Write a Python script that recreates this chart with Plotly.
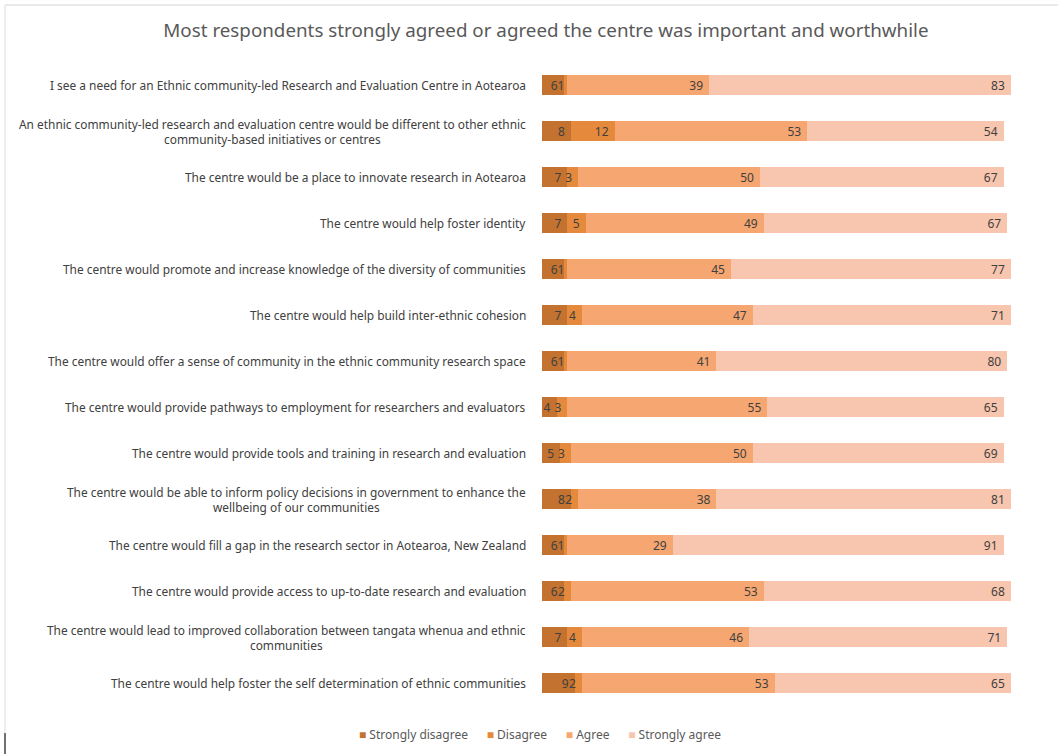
import plotly.graph_objects as go

statements = [
    "I see a need for an Ethnic community-led Research and Evaluation Centre in Aotearoa",
    "An ethnic community-led research and evaluation centre would be different to other ethnic<br>community-based initiatives or centres",
    "The centre would be a place to innovate research in Aotearoa",
    "The centre would help foster identity",
    "The centre would promote and increase knowledge of the diversity of communities",
    "The centre would help build inter-ethnic cohesion",
    "The centre would offer a sense of community in the ethnic community research space",
    "The centre would provide pathways to employment for researchers and evaluators",
    "The centre would provide tools and training in research and evaluation",
    "The centre would be able to inform policy decisions in government to enhance the<br>wellbeing of our communities",
    "The centre would fill a gap in the research sector in Aotearoa, New Zealand",
    "The centre would provide access to up-to-date research and evaluation",
    "The centre would lead to improved collaboration between tangata whenua and ethnic<br>communities",
    "The centre would help foster the self determination of ethnic communities",
]

strongly_disagree = [6, 8, 7, 7, 6, 7, 6, 4, 5, 8, 6, 6, 7, 9]
disagree = [1, 12, 3, 5, 1, 4, 1, 3, 3, 2, 1, 2, 4, 2]
agree = [39, 53, 50, 49, 45, 47, 41, 55, 50, 38, 29, 53, 46, 53]
strongly_agree = [83, 54, 67, 67, 77, 71, 80, 65, 69, 81, 91, 68, 71, 65]

series = [
    ("Strongly disagree", strongly_disagree, "#C3722F"),
    ("Disagree", disagree, "#E5893C"),
    ("Agree", agree, "#F5A671"),
    ("Strongly agree", strongly_agree, "#F8C6AE"),
]

keys = list(range(len(statements)))
FONT = "Noto Sans"

fig = go.Figure()
for name, vals, color in series:
    fig.add_trace(go.Bar(
        y=keys, x=vals, name=name, orientation="h",
        marker=dict(color=color, line=dict(width=0)),
        # trailing no-break space keeps the value a little off the segment end
        text=[f"{v}\u00a0" for v in vals],
        textposition="inside", insidetextanchor="end", textangle=0,
        constraintext="none", cliponaxis=False,
        textfont=dict(color="#404040", size=12, family=FONT),
        hoverinfo="skip", showlegend=False,
    ))

# category labels, centred line by line like the wrapped statements
annotations = [
    dict(x=0, y=k, xref="paper", yref="y", text=s, showarrow=False,
         xanchor="right", align="center", xshift=-14,
         font=dict(size=11.9, color="#404040", family=FONT))
    for k, s in zip(keys, statements)
]

# compact legend row under the bars
legend_text = "      ".join(
    f"<span style='color:{c}'>■</span> {n}" for n, _, c in series
)
annotations.append(dict(
    x=-0.004, y=-0.045, xref="paper", yref="paper", text=legend_text,
    showarrow=False, xanchor="center", yanchor="middle",
    font=dict(size=12, color="#595959", family=FONT),
))

fig.update_layout(
    width=1058, height=754,
    barmode="stack", bargap=0.56,
    paper_bgcolor="white", plot_bgcolor="white",
    margin=dict(l=542, r=46, t=62, b=48),
    title=dict(text="Most respondents strongly agreed or agreed the centre was important and worthwhile",
               x=0.516, xanchor="center", y=0.96, yanchor="middle",
               font=dict(size=18.8, color="#595959", family=FONT)),
    xaxis=dict(range=[0, 129.3], visible=False, fixedrange=True),
    yaxis=dict(range=[len(statements) - 0.5, -0.5], visible=False, fixedrange=True),
    showlegend=False,
    annotations=annotations,
    shapes=[
        dict(type="line", xref="paper", yref="paper", x0=-1.1426, x1=1.2, y0=1.0885, y1=1.0885,
             line=dict(color="#E3E3E3", width=1.5)),
        dict(type="line", xref="paper", yref="paper", x0=-1.1426, x1=-1.1426, y0=1.0885, y1=-0.042,
             line=dict(color="#E8E8E8", width=1.5)),
        dict(type="line", xref="paper", yref="paper", x0=-1.1426, x1=-1.1426, y0=-0.042, y1=-0.08,
             line=dict(color="#707070", width=2)),
    ],
)

fig.write_html("out.html")
